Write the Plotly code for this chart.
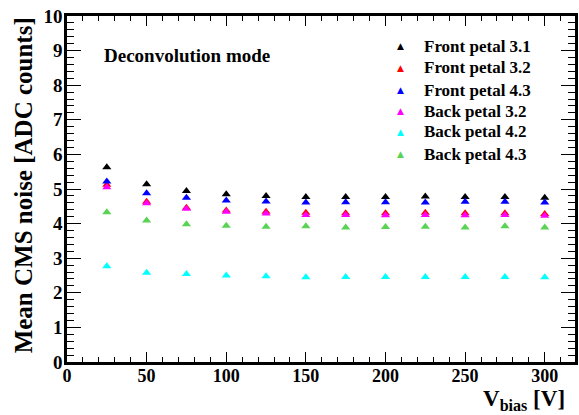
import plotly.graph_objects as go

# Bias voltage [V]
vbias = [25, 50, 75, 100, 125, 150, 175, 200, 225, 250, 275, 300]

series_names = ["Front petal 3.1", "Front petal 3.2", "Front petal 4.3",
                "Back petal 3.2", "Back petal 4.2", "Back petal 4.3"]
series_colors = ["#000000", "#ff0000", "#0000ff", "#ff00ff", "#00ffff", "#59d354"]

front_3_1 = [5.63, 5.14, 4.94, 4.85, 4.80, 4.77, 4.77, 4.77, 4.78, 4.77, 4.77, 4.75]
front_3_2 = [5.12, 4.63, 4.46, 4.38, 4.34, 4.31, 4.30, 4.30, 4.31, 4.30, 4.30, 4.28]
front_4_3 = [5.22, 4.88, 4.75, 4.67, 4.64, 4.61, 4.62, 4.62, 4.61, 4.63, 4.63, 4.61]
back_3_2 = [5.05, 4.59, 4.43, 4.34, 4.29, 4.25, 4.25, 4.24, 4.25, 4.24, 4.25, 4.23]
back_4_2 = [2.77, 2.58, 2.54, 2.50, 2.48, 2.45, 2.46, 2.46, 2.46, 2.46, 2.46, 2.45]
back_4_3 = [4.33, 4.09, 3.98, 3.94, 3.91, 3.92, 3.89, 3.90, 3.91, 3.89, 3.92, 3.89]

series_values = [front_3_1, front_3_2, front_4_3, back_3_2, back_4_2, back_4_3]

x_range = [0, 319]
y_range = [0, 10]

FONT = "Liberation Serif"

fig = go.Figure()
for name, color, vals in zip(series_names, series_colors, series_values):
    fig.add_trace(go.Scatter(
        x=vbias, y=vals, mode="markers", name=name, showlegend=False,
        marker=dict(symbol="triangle-up", size=8, color=color, line=dict(width=0)),
    ))

axis_common = dict(
    showline=True, linecolor="black", linewidth=2.5, mirror="allticks",
    ticks="inside", tickcolor="black", showgrid=False, zeroline=False,
)

fig.update_xaxes(range=x_range, dtick=50, tick0=0, ticklen=10, tickwidth=1,
                 ticklabelstandoff=-4,
                 tickfont=dict(family=FONT, size=18, color="black", weight="bold"),
                 minor=dict(dtick=10, ticklen=5, ticks="inside", tickcolor="black", tickwidth=1),
                 **axis_common)
fig.update_yaxes(range=y_range, dtick=1, tick0=0, ticklen=14, tickwidth=1,
                 ticklabelstandoff=-2,
                 tickfont=dict(family=FONT, size=19, color="black", weight="bold"),
                 minor=dict(dtick=0.2, ticklen=7, ticks="inside", tickcolor="black", tickwidth=1),
                 **axis_common)

fig.add_annotation(
    text="Mean CMS noise [ADC counts]", xref="paper", yref="paper",
    x=-0.085, y=0.51, xanchor="center", yanchor="middle", textangle=-90,
    showarrow=False, font=dict(family=FONT, size=25, color="black", weight="bold"),
)
fig.add_annotation(
    text="V<sub>bias</sub> [V]", xref="paper", yref="paper",
    x=0.985, y=-0.064, xanchor="right", yanchor="top",
    showarrow=False, font=dict(family=FONT, size=23, color="black", weight="bold"),
)
fig.add_annotation(
    text="Deconvolution mode", xref="paper", yref="paper",
    x=0.068, y=0.886, xanchor="left", yanchor="middle",
    showarrow=False, font=dict(family=FONT, size=19, color="black", weight="bold"),
)

# Hand-placed legend (symbol + label), matching the reference's compact spacing
legend_rows_y = [0.913, 0.850, 0.786, 0.725, 0.665, 0.601]
for name, color, ly in zip(series_names, series_colors, legend_rows_y):
    fig.add_annotation(
        text="▲", xref="paper", yref="paper", x=0.657, y=ly,
        xanchor="center", yanchor="middle", showarrow=False,
        font=dict(family="DejaVu Sans", size=9, color=color),
    )
    fig.add_annotation(
        text=name, xref="paper", yref="paper", x=0.698, y=ly,
        xanchor="left", yanchor="middle", showarrow=False,
        font=dict(family=FONT, size=17, color="black", weight="bold"),
    )

fig.update_layout(
    width=579, height=415,
    margin=dict(l=67, r=1, t=16, b=53),
    paper_bgcolor="white", plot_bgcolor="white",
    showlegend=False,
)

fig.write_html("out.html")
